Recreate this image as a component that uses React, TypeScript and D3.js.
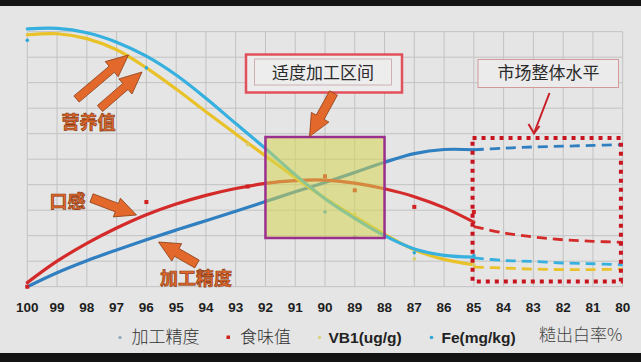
import React from "react";
import * as d3 from "d3";

// ---- data ----
const xTicks = [100, 99, 98, 97, 96, 95, 94, 93, 92, 91, 90, 89, 88, 87, 86, 85, 84, 83, 82, 81, 80];
const yGrid = [0, 10, 20, 30, 40, 50, 60, 70, 80, 90, 100];

// trend lines (solid part), x = 100 .. 85
const trendX = [100, 99, 98, 97, 96, 95, 94, 93, 92, 91, 90, 89, 88, 87, 86, 85];
const precisionTrend = [0, 5.5, 10.2, 14.4, 18.4, 22.2, 25.9, 29.6, 33.4, 37.2, 40.9, 44.8, 48.8, 52.2, 53.8, 53.7];
const tasteTrend = [1.6, 10.0, 17.0, 23.0, 28.2, 32.4, 35.8, 38.5, 40.5, 41.6, 41.8, 40.6, 38.4, 35.3, 31.0, 25.3];
const vb1Trend = [98.8, 99.2, 97.3, 92.9, 85.8, 77.5, 68.6, 59.9, 51.3, 42.8, 34.7, 27.5, 20.6, 14.5, 10.7, 8.6];
const feTrend = [101.1, 101.3, 99.6, 95.9, 90.4, 83.0, 73.9, 64.0, 54.2, 43.9, 34.5, 26.8, 20.0, 14.8, 12.3, 11.6];

// market level (dashed part), x = 85 .. 80
const marketX = [85, 84, 83, 82, 81, 80];
const precisionMarket = [53.7, 54.3, 54.8, 55.1, 55.4, 55.7];
const tasteMarket = [23.6, 21.1, 19.5, 18.4, 17.8, 17.4];
const vb1Market = [7.7, 7.3, 6.9, 6.7, 6.7, 6.9];
const feMarket = [11.3, 10.3, 9.9, 9.3, 9.0, 8.6];

// measured points
const pointX = [100, 96, 92.6, 90, 89, 87, 85];
const precisionPoints = [null, null, null, null, 19.7, null, null];
const tastePoints = [0, 33.2, 39.3, 43.3, 37.8, 31.3, 29.3];
const vb1Points = [null, null, 55.7, null, 28.5, 10.9, 8.6];
const fePoints = [96.6, 85.8, null, 29.3, null, 13.3, 12.2];

const seriesNames = ["加工精度", "食味值", "VB1(ug/g)", "Fe(mg/kg)"];
const seriesColors = ["#2f7fc1", "#d42a2a", "#e9c22a", "#36b0de"];
const markerColors = ["#8fa3b3", "#d02020", "#d8d070", "#2ea8d8"];
const axisTitle = "糙出白率%";

const W = 641;
const H = 362;

function arrowPath(x1: number, y1: number, x2: number, y2: number, shaft: number, headW: number, headL: number) {
  const dx = x2 - x1, dy = y2 - y1;
  const len = Math.hypot(dx, dy);
  const ux = dx / len, uy = dy / len;
  const nx = -uy, ny = ux;
  const bx = x2 - ux * headL, by = y2 - uy * headL;
  const p = [
    [x1 + nx * shaft / 2, y1 + ny * shaft / 2],
    [bx + nx * shaft / 2, by + ny * shaft / 2],
    [bx + nx * headW / 2, by + ny * headW / 2],
    [x2, y2],
    [bx - nx * headW / 2, by - ny * headW / 2],
    [bx - nx * shaft / 2, by - ny * shaft / 2],
    [x1 - nx * shaft / 2, y1 - ny * shaft / 2],
  ];
  return "M" + p.map((q) => q[0].toFixed(1) + "," + q[1].toFixed(1)).join("L") + "Z";
}

export default function App() {
  const x = d3.scaleLinear().domain([100, 80]).range([27.3, 622.7]);
  const y = d3.scaleLinear().domain([0, 100]).range([286.7, 31.7]);

  const line = d3
    .line<[number, number]>()
    .x((d) => x(d[0]))
    .y((d) => y(d[1]))
    .curve(d3.curveCatmullRom.alpha(0.5));

  const trends = [precisionTrend, tasteTrend, vb1Trend, feTrend];
  const markets = [precisionMarket, tasteMarket, vb1Market, feMarket];
  const points = [precisionPoints, tastePoints, vb1Points, fePoints];

  const orange = "#e2692b";
  const orangeStroke = "#8c3b14";
  const cjk = "'Noto Sans CJK SC', 'Noto Sans', sans-serif";

  // annotation geometry via scales
  const boxX0 = x(92), boxX1 = x(88);
  const boxY0 = y(58.7), boxY1 = y(19.1);

  const legendY = 343;

  return (
    <svg width={W} height={H} style={{ position: "absolute", left: 0, top: 0, display: "block" }}>
      <rect x={0} y={0} width={W} height={H} fill="#e5e5e5" />
      <rect x={0} y={0} width={W} height={6} fill="#141414" />
      <rect x={0} y={353} width={W} height={9} fill="#141414" />

      {/* grid */}
      <g stroke="#c2c2c2" strokeWidth={1}>
        {xTicks.map((t) => (
          <line key={"v" + t} x1={x(t)} x2={x(t)} y1={y(0)} y2={y(100)} />
        ))}
        {yGrid.map((t) => (
          <line key={"h" + t} x1={x(100)} x2={x(80)} y1={y(t)} y2={y(t)} />
        ))}
      </g>

      {/* solid trend lines */}
      {trends.map((vals, i) => (
        <path
          key={"t" + i}
          d={line(trendX.map((xv, j) => [xv, vals[j]] as [number, number])) || ""}
          fill="none"
          stroke={seriesColors[i]}
          strokeWidth={3.2}
          strokeLinecap="round"
        />
      ))}

      {/* dashed market lines */}
      {markets.map((vals, i) => (
        <path
          key={"m" + i}
          d={line(marketX.map((xv, j) => [xv, vals[j]] as [number, number])) || ""}
          fill="none"
          stroke={seriesColors[i]}
          strokeWidth={2.8}
          strokeDasharray="10 6"
        />
      ))}

      {/* measured points */}
      {points.map((vals, i) =>
        vals.map((v, j) =>
          v == null ? null : i === 1 ? (
            <rect key={"p" + i + "-" + j} x={x(pointX[j]) - 2} y={y(v) - 2} width={4} height={4} fill={markerColors[i]} />
          ) : (
            <circle key={"p" + i + "-" + j} cx={x(pointX[j])} cy={y(v)} r={1.8} fill={markerColors[i]} />
          )
        )
      )}

      {/* moderate processing box */}
      <rect
        x={boxX0}
        y={boxY0}
        width={boxX1 - boxX0}
        height={boxY1 - boxY0}
        fill="#d6d652"
        fillOpacity={0.55}
        stroke="#9a2f8e"
        strokeWidth={2.5}
      />

      {/* market dotted box */}
      <rect
        x={x(85) - 1.3}
        y={y(58.3)}
        width={x(80) - x(85) - 0.5}
        height={y(2) - y(58.3)}
        fill="none"
        stroke="#c8141e"
        strokeWidth={4}
        strokeDasharray="4 5"
      />

      {/* label box: 适度加工区间 */}
      <rect x={246} y={54.5} width={156} height={38} fill="#ececec" stroke="#e2505c" strokeWidth={2.5} />
      <rect x={254.5} y={59} width={137} height={26} fill="#ededed" stroke="#c9a0a4" strokeWidth={0.8} />
      <text x={323} y={79} textAnchor="middle" fontFamily={cjk} fontSize={17} fill="#2a2a2a">
        适度加工区间
      </text>

      {/* label box: 市场整体水平 */}
      <rect x={478} y={59.5} width={140.5} height={28} fill="#ebebeb" stroke="#d39a9a" strokeWidth={1} />
      <text x={548.5} y={79} textAnchor="middle" fontFamily={cjk} fontSize={17} fill="#2a2a2a">
        市场整体水平
      </text>

      {/* thin red arrow */}
      <line x1={549.5} y1={93} x2={534.5} y2={132} stroke="#c81e28" strokeWidth={2} />
      <path d="M528.5,124 L534,133.5 L539.5,126" fill="none" stroke="#c81e28" strokeWidth={2} />

      {/* orange block arrows */}
      <g fill={orange} stroke={orangeStroke} strokeWidth={0.8} strokeLinejoin="round">
        <path d={arrowPath(76.5, 99, 128.5, 55, 8, 20, 22)} />
        <path d={arrowPath(100, 108.5, 142, 72, 8, 20, 22)} />
        <path d={arrowPath(91.5, 198, 136.5, 215, 9, 20, 21)} />
        <path d={arrowPath(197, 264, 158.5, 242, 9, 20, 21)} />
        <path d={arrowPath(333.5, 93, 309.5, 136.5, 9, 20, 22)} />
      </g>

      {/* orange labels */}
      <g fontFamily={cjk} fontWeight={700} fontSize={18} fill={orange} stroke={orangeStroke} strokeWidth={0.7}>
        <text x={88.5} y={129} textAnchor="middle">营养值</text>
        <text x={67.5} y={208} textAnchor="middle">口感</text>
        <text x={196} y={285} textAnchor="middle">加工精度</text>
      </g>

      {/* x tick labels */}
      <g fontFamily="'Liberation Sans', Arial, sans-serif" fontWeight={700} fontSize={13.5} fill="#1e1e1e">
        {xTicks.map((t) => (
          <text key={"xl" + t} x={x(t)} y={311.5} textAnchor="middle">
            {t}
          </text>
        ))}
      </g>

      {/* legend */}
      <circle cx={120} cy={337.5} r={1.6} fill={markerColors[0]} />
      <text x={131.5} y={legendY} fontFamily={cjk} fontWeight={300} fontSize={17} fill="#333">
        {seriesNames[0]}
      </text>
      <rect x={226.5} y={335.5} width={3.5} height={3.5} fill={markerColors[1]} />
      <text x={240} y={legendY} fontFamily={cjk} fontWeight={300} fontSize={17} fill="#333">
        {seriesNames[1]}
      </text>
      <circle cx={319.5} cy={337.5} r={1.6} fill={markerColors[2]} />
      <text x={328.5} y={342.5} fontFamily="'Liberation Sans', Arial, sans-serif" fontWeight={700} fontSize={15.5} fill="#222">
        {seriesNames[2]}
      </text>
      <circle cx={431.5} cy={337.5} r={1.8} fill={markerColors[3]} />
      <text x={441.5} y={342.5} fontFamily="'Liberation Sans', Arial, sans-serif" fontWeight={700} fontSize={15.5} fill="#222">
        {seriesNames[3]}
      </text>
      <text x={539} y={341} fontFamily={cjk} fontWeight={300} fontSize={17} fill="#444">
        {axisTitle}
      </text>
    </svg>
  );
}
